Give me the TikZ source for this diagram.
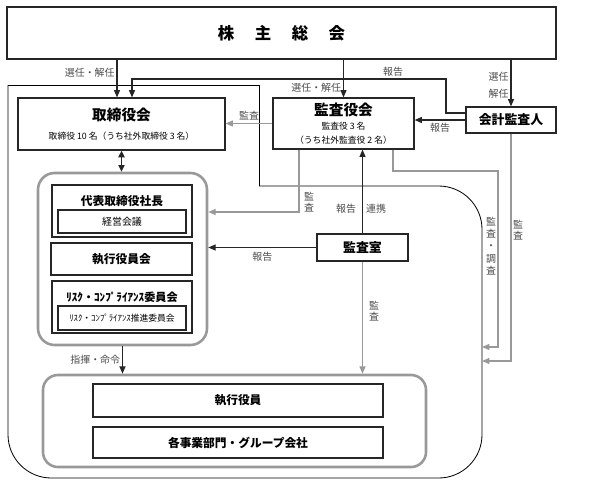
\documentclass[tikz,border=0pt]{standalone}
\usepackage{fontspec}
\setmainfont{Noto Sans CJK JP}
\usetikzlibrary{arrows.meta}
\tikzset{
  box/.style={draw=black!85,line width=1pt,inner sep=0pt,align=center},
  grp/.style={draw=black!40,line width=2.2pt,rounded corners=0.5cm,inner sep=0pt},
  lbl/.style={text=black!70,font=\fontsize{8.5}{10}\selectfont,inner sep=1.5pt,align=center},
  arr/.style={draw=black!85,line width=1pt,-{Triangle[length=2.2mm,width=1.8mm]}},
  garr/.style={draw=black!40,line width=1pt,-{Triangle[length=2.2mm,width=1.8mm]}},
}
\begin{document}
\begin{tikzpicture}[x=0.03cm,y=-0.03cm]
\useasboundingbox (0,0) rectangle (594,503);
% outer frame
\draw[line width=0.7pt,rounded corners=1.3cm] (259,186) -- (482,186) -- (482,478) -- (8,478) -- (8,85);
\draw[line width=0.7pt] (8,85) -- (259,85) -- (259,186);
\coordinate (frR) at (482,0);
% boxes
\node[box,minimum width=16.47cm,minimum height=1.56cm,font=\fontsize{14}{14}\bfseries] (soukai) at (281.5,33)
  {株\hspace{1.25em}主\hspace{1.25em}総\hspace{1.25em}会};
\node[box,minimum width=6.21cm,minimum height=1.56cm] (torishimari) at (121.5,124)
  {{\fontsize{12.5}{14}\bfseries 取締役会}\\[4pt]{\fontsize{7.5}{9}\selectfont 取締役 10 名（うち社外取締役 3 名）}};
\node[box,minimum width=4.23cm,minimum height=1.53cm] (kansayaku) at (343.5,123.5)
  {{\fontsize{12.5}{14}\bfseries 監査役会}\\[0pt]{\fontsize{7.5}{11}\selectfont 監査役 3 名}\\{\fontsize{7.5}{11}\selectfont （うち社外監査役 2 名）}};
\node[box,minimum width=2.7cm,minimum height=0.78cm,font=\fontsize{11}{12}\bfseries] (kaikei) at (511,120) {会計監査人};
\node[box,minimum width=2.73cm,minimum height=0.81cm,font=\fontsize{11}{12}\bfseries] (kansashitsu) at (362.5,247.5) {監査室};
% executive group
\node[grp,minimum width=5.07cm,minimum height=5.16cm] (exgroup) at (122.5,259) {};
\node[box,minimum width=4.2cm,minimum height=1.56cm] (daihyo) at (122,211) {};
\node[font=\fontsize{10}{11}\bfseries] (daihyoT) at (122,201) {代表取締役社長};
\node[box,minimum width=3.84cm,minimum height=0.69cm,font=\fontsize{8.5}{10}\selectfont] (keiei) at (122,221.5) {経営会議};
\node[box,minimum width=4.23cm,minimum height=0.96cm,font=\fontsize{10}{11}\bfseries] (shikkokai) at (121.5,259) {執行役員会};
\node[box,minimum width=4.2cm,minimum height=1.56cm] (risk) at (122,307) {};
\node[font=\fontsize{9.5}{11}\bfseries] (riskT) at (122,297) {ﾘｽｸ・ｺﾝﾌﾟﾗｲｱﾝｽ委員会};
\node[box,minimum width=3.84cm,minimum height=0.72cm,font=\fontsize{7.5}{9}\selectfont] (riskS) at (122,318) {ﾘｽｸ・ｺﾝﾌﾟﾗｲｱﾝｽ推進委員会};
% lower group
\node[grp,minimum width=11.49cm,minimum height=2.76cm,rounded corners=0.45cm] (lowgroup) at (234.5,421) {};
\node[box,minimum width=8.7cm,minimum height=0.99cm,font=\fontsize{10}{11}\bfseries] (yakuin) at (238,400.5) {執行役員};
\node[box,minimum width=8.7cm,minimum height=0.93cm,font=\fontsize{10}{11}\bfseries] (jigyo) at (238,442.5) {各事業部門・グループ会社};
% connectors
\coordinate (a1) at (117,0);
\coordinate (a2) at (132,0);
\coordinate (r1) at (446,79);
\coordinate (k1) at (299,212);
\coordinate (c1) at (393,171);
\coordinate (c2) at (498,347);
\coordinate (c3) at (511,361);
\draw[arr] (a1 |- soukai.south) -- node[lbl,left,pos=0.36] (l1) {選任・解任} (a1 |- torishimari.north);
\draw[arr] ([yshift=0.21cm]kaikei.west) -| (r1) -| (a2 |- torishimari.north);
\node[lbl] (l2) at (393,72) {報告};
\draw[arr] (soukai.south -| kansayaku.north) -- node[lbl,left,pos=0.74] (l3) {選任・解任} (kansayaku.north);
\draw[arr] (soukai.south -| kaikei.north) -- node[lbl,left,pos=0.55,font=\fontsize{8.5}{14.5}\selectfont] (l4) {選任\\解任} (kaikei.north);
\draw[arr] (kaikei.west) -- node[lbl,below=1pt] (l5) {報告} (kaikei.west -| kansayaku.east);
\draw[garr] (kansayaku.west) -- node[lbl,above=1pt] (l6) {監査} (kansayaku.west -| torishimari.east);
\draw[draw=black!85,line width=1.4pt,{Triangle[length=2mm,width=1.8mm]}-{Triangle[length=2mm,width=1.8mm]}]
  (torishimari.south) -- (torishimari.south |- exgroup.north);
\draw[garr] (k1 |- kansayaku.south) -- (k1) -- (k1 -| exgroup.east);
\node[lbl] (l7) at (309,202) {監\\査};
\draw[arr] (kansashitsu.west) -- node[lbl,below=2pt] (l8) {報告} (kansashitsu.west -| exgroup.east);
\draw[arr] (kansashitsu.north) -- (kansashitsu.north |- kansayaku.south);
\node[lbl] (l9) at (346,209) {報告};
\node[lbl] (l10) at (376,209) {連携};
\draw[garr] (kansashitsu.south) -- (kansashitsu.south |- lowgroup.north);
\node[lbl] (l11) at (374,311) {監\\査};
\draw[garr] (c1 |- kansayaku.south) -- (c1) -| (c2) -- (c2 -| frR);
\node[lbl,font=\fontsize{8.5}{10.5}\selectfont] (l12) at (491,246) {監\\査\\・\\調\\査};
\draw[garr] (kaikei.south) |- (c3 -| frR);
\node[lbl] (l13) at (518,230) {監\\査};
\draw[arr] (exgroup.south) -- node[lbl,left,pos=0.5] (l14) {指揮・命令} (exgroup.south |- lowgroup.north);
\end{tikzpicture}
\end{document}
